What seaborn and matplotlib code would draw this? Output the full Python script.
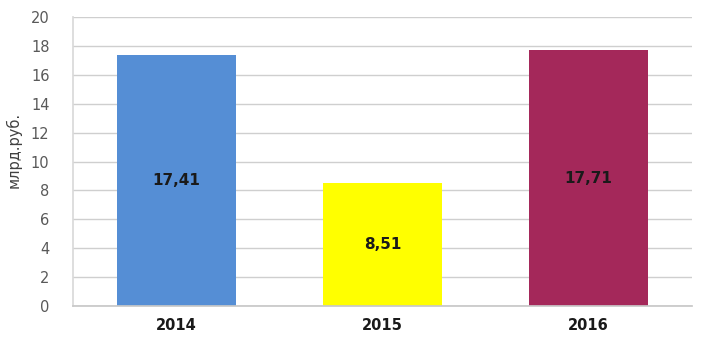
import matplotlib
matplotlib.use("Agg")
import matplotlib.pyplot as plt
import seaborn as sns
import pandas as pd

years = ["2014", "2015", "2016"]
values = [17.41, 8.51, 17.71]
labels = ["17,41", "8,51", "17,71"]
colors = ["#558ED5", "#FFFF00", "#A4285A"]
yticks = [0, 2, 4, 6, 8, 10, 12, 14, 16, 18, 20]

sns.set_theme(style="white")
plt.rcParams['font.family'] = ['DejaVu Sans']

df = pd.DataFrame({"year": years, "value": values})

fig = plt.figure(figsize=(7.03, 3.43), dpi=100)
ax = fig.add_axes([0.104, 0.108, 0.880, 0.842])
sns.barplot(data=df, x="year", y="value", hue="year", palette=colors,
            width=0.575, legend=False, ax=ax, saturation=1, edgecolor="none")

ax.set_ylim(0, 20)
ax.set_xlim(-0.5, 2.5)
ax.set_yticks(yticks)
ax.set_yticklabels([str(t) for t in yticks], color="#595959", fontsize=10.5)
ax.yaxis.grid(True, color="#CFCFCF", linewidth=1)
ax.set_axisbelow(True)
for s in ["top", "right"]:
    ax.spines[s].set_visible(False)
ax.spines["left"].set_color("#D9D9D9")
ax.spines["bottom"].set_color("#C8C8C8")
ax.tick_params(axis="y", length=0, pad=17)
ax.tick_params(axis="x", length=0, pad=9)
for t in ax.get_xticklabels():
    t.set_fontweight("bold")
    t.set_fontsize(10.5)
    t.set_color("#1a1a1a")
ax.set_xlabel("")
ax.set_ylabel("млрд.руб.", color="#404040", fontsize=10.5)
ax.yaxis.set_label_coords(-0.083, 0.54)

for i, (v, lab) in enumerate(zip(values, labels)):
    ax.text(i, v / 2, lab, ha="center", va="center", fontsize=11,
            fontweight="bold", color="#1a1a1a")

fig.savefig("out.png", dpi=100)
